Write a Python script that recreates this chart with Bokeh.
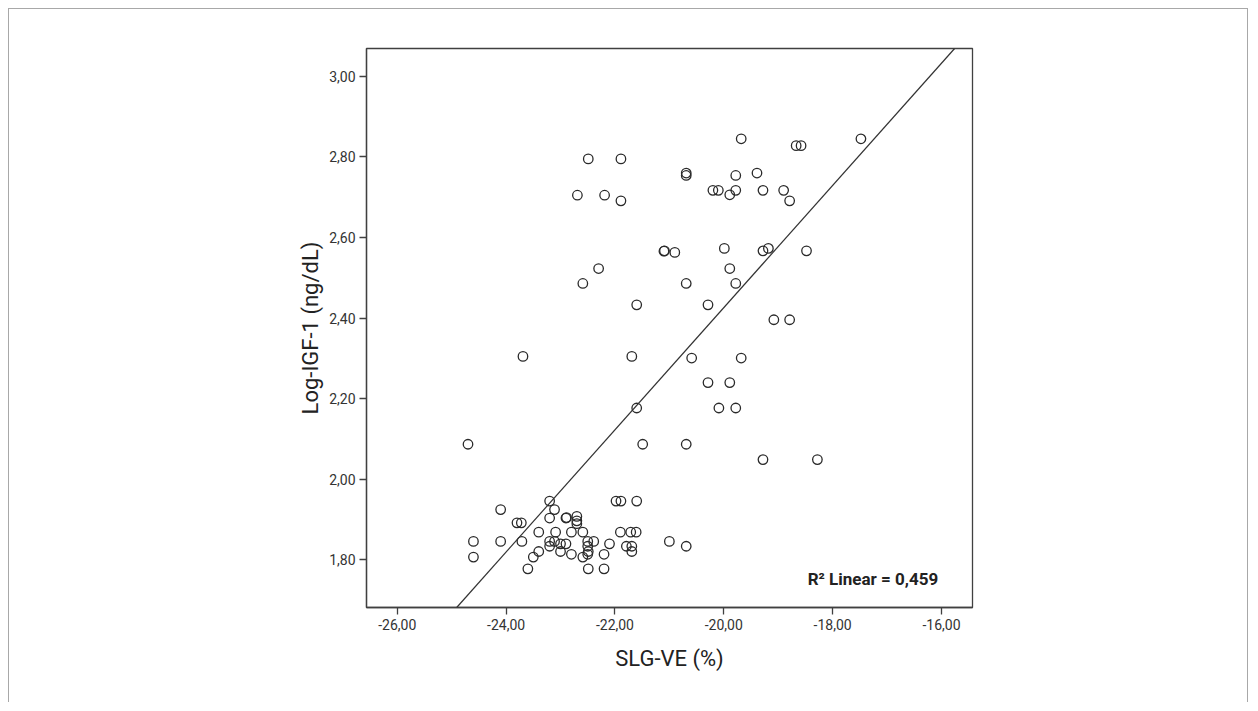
from bokeh.plotting import figure
from bokeh.models import Range1d, FixedTicker, Slope, Label
from bokeh.embed import file_html
from bokeh.resources import INLINE

# ---- data ----
slg_ve = [
    -22.49, -21.89, -22.69, -22.19, -21.89, -21.10, -21.09, -20.90, -22.30, -22.59,
    -21.60, -19.68, -18.67, -18.58, -17.48, -20.69, -20.69, -19.78, -19.39, -20.20,
    -20.10, -19.78, -19.89, -19.28, -18.90, -18.79, -19.99, -19.28, -19.18, -18.48,
    -19.89, -20.69, -19.78, -20.29, -19.08, -18.79, -23.69, -21.69, -21.60, -24.70,
    -21.49, -20.59, -19.68, -20.29, -19.89, -20.09, -19.78, -20.69, -19.28, -18.28,
    -23.20, -21.98, -21.89, -21.60, -24.10, -23.11, -23.80, -23.72, -23.20, -22.90,
    -22.89, -22.70, -22.70, -22.70, -23.40, -23.09, -22.80, -22.59, -21.90, -21.71,
    -21.61, -24.60, -24.10, -23.71, -23.20, -23.11, -22.50, -22.39, -21.00, -23.00,
    -22.90, -22.10, -23.20, -22.50, -21.79, -21.69, -20.69, -23.40, -23.00, -22.49,
    -21.69, -22.80, -22.50, -22.20, -24.60, -23.50, -22.59, -23.60, -22.49, -22.20,
]
log_igf1 = [
    2.795, 2.795, 2.705, 2.705, 2.691, 2.566, 2.567, 2.563, 2.523, 2.486,
    2.433, 2.845, 2.828, 2.828, 2.845, 2.760, 2.754, 2.754, 2.760, 2.717,
    2.717, 2.717, 2.706, 2.717, 2.717, 2.691, 2.573, 2.567, 2.573, 2.567,
    2.523, 2.486, 2.486, 2.433, 2.396, 2.396, 2.305, 2.305, 2.177, 2.087,
    2.087, 2.301, 2.301, 2.240, 2.240, 2.177, 2.177, 2.087, 2.049, 2.049,
    1.946, 1.946, 1.946, 1.946, 1.925, 1.925, 1.892, 1.892, 1.904, 1.904,
    1.905, 1.908, 1.897, 1.890, 1.869, 1.869, 1.869, 1.869, 1.869, 1.869,
    1.869, 1.846, 1.846, 1.846, 1.846, 1.846, 1.846, 1.846, 1.846, 1.840,
    1.840, 1.840, 1.834, 1.834, 1.834, 1.834, 1.834, 1.821, 1.821, 1.821,
    1.821, 1.814, 1.814, 1.814, 1.807, 1.807, 1.807, 1.778, 1.778, 1.778,
]

fit_intercept = 5.458
fit_slope = 0.1516
r2_text = "R\u00b2 Linear = 0,459"

x_ticks = [-26.0, -24.0, -22.0, -20.0, -18.0, -16.0]
x_tick_labels = ["-26,00", "-24,00", "-22,00", "-20,00", "-18,00", "-16,00"]
y_ticks = [1.8, 2.0, 2.2, 2.4, 2.6, 2.8, 3.0]
y_tick_labels = ["1,80", "2,00", "2,20", "2,40", "2,60", "2,80", "3,00"]

x_title = "SLG-VE (%)"
y_title = "Log-IGF-1 (ng/dL)"

# ---- figure ----
FONT = "Roboto"
ink = "#333333"

p = figure(width=1240, height=694, output_backend="svg", toolbar_location=None,
           x_range=Range1d(-26.565, -15.43), y_range=Range1d(1.682, 3.069),
           min_border_left=357, min_border_right=277, min_border_top=39,
           min_border_bottom=96)
p.styles = {"border-top": "1px solid #a8a8a8", "border-left": "1px solid #a8a8a8",
            "border-right": "1px solid #a8a8a8", "margin-left": "8px",
            "margin-top": "8px"}
p.background_fill_color = "white"
p.border_fill_color = "white"
p.outline_line_color = "#404040"
p.outline_line_width = 1.3
p.grid.visible = False

for ax in (p.xaxis[0], p.yaxis[0]):
    ax.minor_tick_line_color = None
    ax.major_tick_in = 0
    ax.major_tick_out = 7
    ax.major_tick_line_color = "#404040"
    ax.major_tick_line_width = 1.3
    ax.axis_line_color = "#404040"
    ax.axis_line_width = 1.3
    ax.major_label_text_font = FONT
    ax.major_label_text_font_size = "14px"
    ax.major_label_text_color = ink
    ax.axis_label_text_font = FONT
    ax.axis_label_text_font_size = "22px"
    ax.axis_label_text_font_style = "normal"
    ax.axis_label_text_color = "#222222"
    ax.major_label_standoff = 4

p.xaxis.ticker = FixedTicker(ticks=x_ticks)
p.xaxis.major_label_overrides = dict(zip(x_ticks, x_tick_labels))
p.yaxis.ticker = FixedTicker(ticks=y_ticks)
p.yaxis.major_label_overrides = dict(zip(y_ticks, y_tick_labels))
p.xaxis.axis_label = x_title
p.yaxis.axis_label = y_title
p.xaxis.axis_label_standoff = 13
p.yaxis.axis_label_standoff = 3

p.add_layout(Slope(gradient=fit_slope, y_intercept=fit_intercept,
                   line_color="#333333", line_width=1.2))

p.scatter(slg_ve, log_igf1, marker="circle", size=9.5, fill_color=None,
          line_color="#2a2a2a", line_width=1.3)

p.add_layout(Label(x=-16.06, y=1.752, text=r2_text, text_align="right",
                   text_baseline="middle", text_font="Roboto",
                   text_font_style="bold", text_font_size="17px",
                   text_color="#222222"))

open("out.html", "w").write(file_html(p, INLINE))
